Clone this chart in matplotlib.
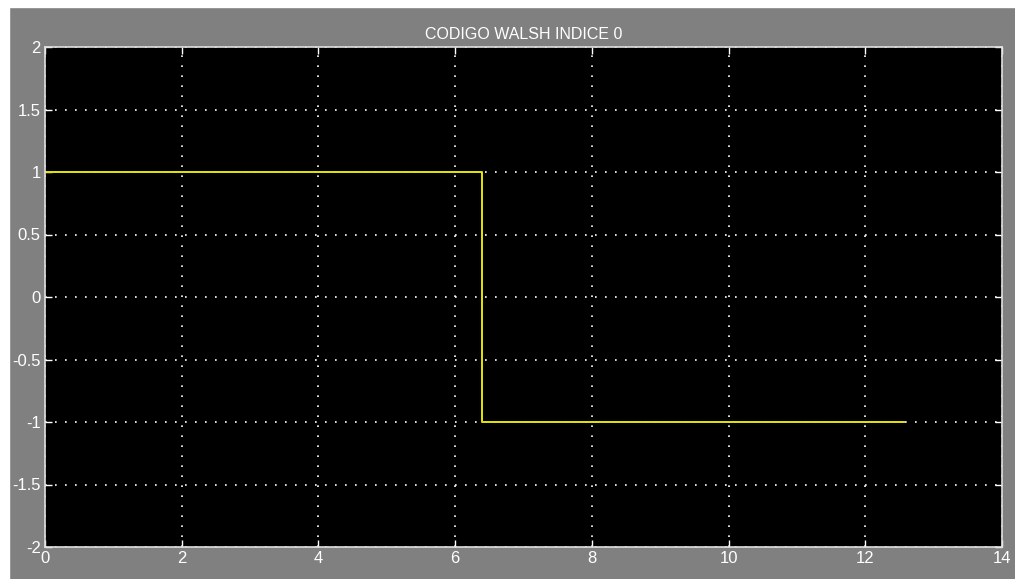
import numpy as np
from matplotlib import pyplot as plt
from matplotlib.patches import Rectangle

# datos de la senal walsh
t = [0, 6.4, 6.4, 12.57]
walsh = [1, 1, -1, -1]

xticks = [0, 2, 4, 6, 8, 10, 12, 14]
yticks = [-2, -1.5, -1, -0.5, 0, 0.5, 1, 1.5, 2]
ylabels = ["-2", "-1.5", "-1", "-0.5", "0", "0.5", "1", "1.5", "2"]

plt.rcParams['font.family'] = ['Liberation Sans', 'DejaVu Sans']

W, H = 1015, 579
fig = plt.figure(figsize=(W / 100, H / 100), dpi=100, facecolor="#808080")

# bordes blancos arriba e izquierda
fig.patches.append(Rectangle((0, 1 - 7 / H), 1, 7 / H, transform=fig.transFigure,
                             color="white", zorder=0))
fig.patches.append(Rectangle((0, 0), 9 / W, 1, transform=fig.transFigure,
                             color="white", zorder=0))

ax = fig.add_axes([45 / W, 1 - 547 / H, (1002 - 45) / W, (547 - 47) / H])
ax.set_facecolor("black")
ax.plot(t, walsh, color="#e6e600", lw=1.4)

ax.set_xlim(0, 14)
ax.set_ylim(-2, 2)
ax.set_xticks(xticks)
ax.set_yticks(yticks)
ax.set_yticklabels(ylabels)

ax.grid(True, color="white", linestyle=(0, (1, 5)), linewidth=1.2)
ax.tick_params(direction="in", colors="white", length=5, width=1,
               top=True, right=True, labelsize=12, pad=3)
for s in ax.spines.values():
    s.set_color("#e0e0e0")
    s.set_linewidth(1.2)

ax.set_title("CODIGO WALSH INDICE 0", color="white", fontsize=11.5, pad=6)

plt.savefig("out.png", dpi=100, facecolor=fig.get_facecolor())
plt.close()
